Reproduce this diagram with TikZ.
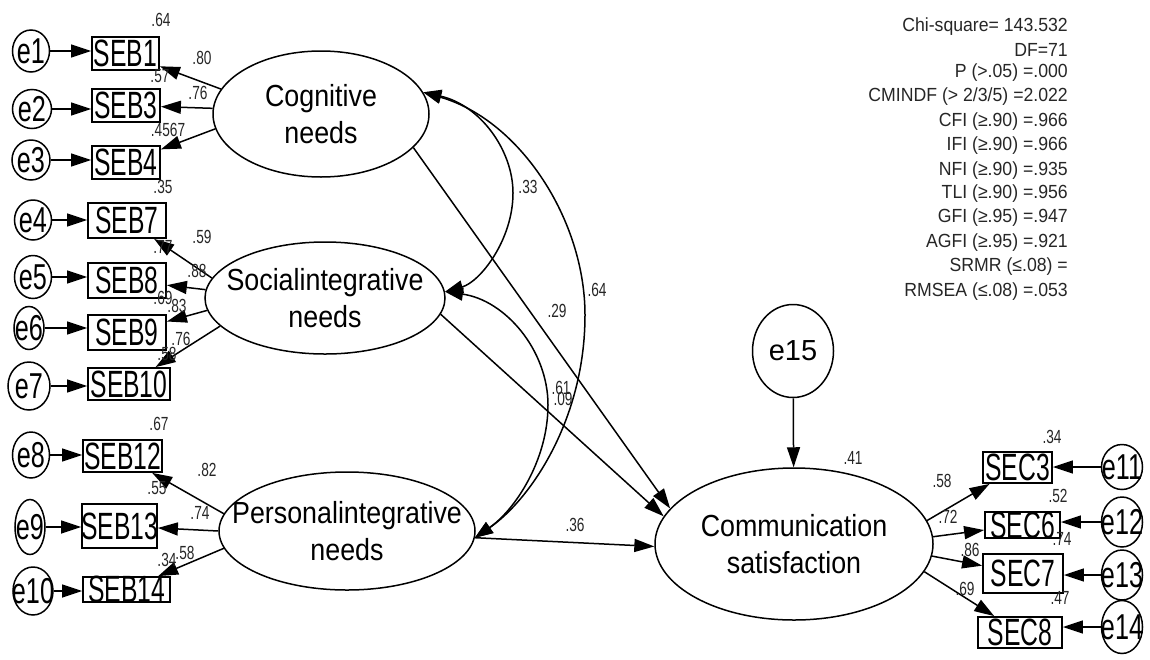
\documentclass[tikz,border=0pt]{standalone}
\usepackage{fontspec}
\setmainfont{Liberation Sans}
\newfontfamily\fLat[FakeStretch=0.88]{Liberation Sans}
\newfontfamily\fObs[FakeStretch=0.65]{Liberation Sans}
\newfontfamily\fErr[FakeStretch=0.7]{Liberation Sans}
\newfontfamily\fNum[FakeStretch=0.72]{Liberation Sans}
\newfontfamily\fFit[FakeStretch=0.93]{Liberation Sans}
\usetikzlibrary{arrows.meta,shapes.geometric}
\begin{document}
\begin{tikzpicture}[x=1pt,y=-1pt,
  lat/.style={draw, ellipse, line width=1.5pt, inner sep=0pt},
  lattext/.style={align=center, inner sep=0pt, font=\fLat\fontsize{30.5}{37}\selectfont},
  obs/.style={draw, rectangle, line width=1.8pt, inner sep=0pt},
  obstext/.style={inner sep=0pt, font=\fObs\fontsize{38}{38}\selectfont},
  err/.style={draw, ellipse, line width=1.5pt, inner sep=0pt},
  errtext/.style={inner sep=0pt, font=\fErr\fontsize{36}{36}\selectfont},
  num/.style={inner sep=0pt, text=black!85, font=\fNum\fontsize{19}{19}\selectfont},
  fit/.style={inner sep=0pt, anchor=east, text=black!85, font=\fFit\fontsize{19}{19}\selectfont},
  arr/.style={-{Triangle[length=20pt,width=13pt]}, line width=1.5pt},
  dbl/.style={{Triangle[length=18pt,width=13pt]}-{Triangle[length=18pt,width=13pt]}, line width=1.5pt}]
\useasboundingbox (0,0) rectangle (1150,659);

% latent variables
\node[lat, minimum width=216pt, minimum height=126pt, label={[lattext]center:Cognitive\\needs}] (cog) at (321,114) {};
\node[lat, minimum width=240pt, minimum height=112pt, label={[lattext]center:Socialintegrative\\needs}] (soc) at (325,298) {};
\node[lat, minimum width=256pt, minimum height=118pt, label={[lattext]center:Personalintegrative\\needs}] (pers) at (347,531) {};
\node[lat, minimum width=278pt, minimum height=152pt, label={[lattext]center:Communication\\satisfaction}] (com) at (794,544) {};
\node[err, minimum width=81pt, minimum height=93pt, label={[inner sep=0pt, font=\fontsize{29}{29}\selectfont]center:e15}] (e15) at (793,351) {};

% observed boxes
\foreach \n/\t/\x/\y/\w/\h in {
  b1/SEB1/125.5/53.5/67/33, b3/SEB3/126/105.5/68/33, b4/SEB4/126/162.5/68/33,
  b7/SEB7/127/220.5/78/35, b8/SEB8/127/280.5/78/35, b9/SEB9/127/332.5/78/35,
  b10/SEB10/129/384/82/32, b12/SEB12/122.5/456/79/32, b13/SEB13/119.5/526/75/44,
  b14/SEB14/126.5/589.5/87/25,
  s3/SEC3/1017.5/467.5/69/31, s6/SEC6/1022.5/525/75/26, s7/SEC7/1023/573.5/80/39,
  s8/SEC8/1020/632.5/84/31}
  \node[obs, minimum width=\w pt, minimum height=\h pt, label={[obstext]center:\t}] (\n) at (\x,\y) {};

% error terms
\foreach \n/\t/\x/\y/\w/\h in {
  e1/e1/31/51/37/42, e2/e2/32/109/39/39, e3/e3/31/160/38/40,
  e4/e4/33/220/37/40, e5/e5/33/277/37/43, e6/e6/29/328/30/43,
  e7/e7/29/386/42/48, e8/e8/31/455/37/46, e9/e9/30/527/30/55,
  e10/e10/33/591/40/48,
  e11/e11/1122/467/41/45, e12/e12/1122/522/41/50, e13/e13/1122/575/41/50,
  e14/e14/1122/627/41/53}
  \node[err, minimum width=\w pt, minimum height=\h pt, label={[errtext]center:\t}] (\n) at (\x,\y) {};

% error arrows
\foreach \e/\b in {e1/b1, e2/b3, e3/b4, e4/b7, e5/b8, e6/b9, e7/b10, e8/b12, e9/b13, e10/b14}
  \draw[arr] (\e.east) -- (\e.east -| \b.west);
\foreach \e/\b in {e11/s3, e12/s6, e13/s7, e14/s8}
  \draw[arr] (\e.west) -- (\e.west -| \b.east);
\draw[arr] (e15) -- (com);

% loadings
\draw[arr] (cog.166) -- (b1);
\draw[arr] (cog.177) -- (b3);
\draw[arr] (cog.188) -- (b4);
\draw[arr] (soc.170) -- (b7);
\draw[arr] (soc.176) -- (b8);
\draw[arr] (soc.186) -- (b9);
\draw[arr] (soc.195) -- (b10);
\draw[arr] (pers.172) -- (b12);
\draw[arr] (pers.180) -- (b13);
\draw[arr] (pers.188) -- (b14);
\draw[arr] (com.10) -- (s3);
\draw[arr] (com.3) -- (s6);
\draw[arr] (com.-5) -- (s7);
\draw[arr] (com.-12) -- (s8);

% structural paths
\draw[arr] (cog.-20) -- (com.164);
\draw[arr] (soc.-8) -- (com.168);
\draw[arr] (pers.-3) -- (com.181);

% covariances
\draw[dbl] (cog.12) .. controls (480,105) and (513,150) .. (513,193) .. controls (513,240) and (480,282) .. (soc.3);
\draw[dbl] (cog.12) .. controls (520,120) and (585,220) .. (585,315) .. controls (585,420) and (530,500) .. (pers.-3);
\draw[dbl] (soc.3) .. controls (505,300) and (548,350) .. (548,405) .. controls (548,460) and (515,510) .. (pers.-3);

% numbers
\node[num] (n1) at (161,20) {.64};
\node[num] (n2) at (202,58) {.80};
\node[num] (n3) at (160,76) {.57};
\node[num] (n4) at (198,93) {.76};
\node[num] (n5) at (168,130) {.4567};
\node[num] (n6) at (163,187) {.35};
\node[num] (n7) at (202,237) {.59};
\node[num] (n8) at (163,247) {.77};
\node[num] (n9) at (197,271) {.88};
\node[num] (n10) at (163,298) {.69};
\node[num] (n11) at (177,306) {.83};
\node[num] (n12) at (181,339) {.76};
\node[num] (n13) at (167,354) {.58};
\node[num] (n14) at (159,424) {.67};
\node[num] (n15) at (207,470) {.82};
\node[num] (n16) at (157,488) {.55};
\node[num] (n17) at (200,513) {.74};
\node[num] (n18) at (167,560) {.34};
\node[num] (n19) at (185,553) {.58};
\node[num] (n20) at (1052,437) {.34};
\node[num] (n21) at (942,481) {.58};
\node[num] (n22) at (1058,496) {.52};
\node[num] (n23) at (948,517) {.72};
\node[num] (n24) at (1062,539) {.74};
\node[num] (n25) at (970,550) {.86};
\node[num] (n26) at (965,589) {.69};
\node[num] (n27) at (1060,598) {.47};
\node[num] (n28) at (853,458) {.41};
\node[num] (n29) at (528,187) {.33};
\node[num] (n30) at (597,290) {.64};
\node[num] (n31) at (557,311) {.29};
\node[num] (n32) at (561,388) {.61};
\node[num] (n33) at (563,399) {.09};
\node[num] (n34) at (575,525) {.36};

% fit indices
\foreach \t/\y [count=\i] in {
  {Chi-square= 143.532}/27, {DF=71}/50, {P (>.05) =.000}/73,
  {CMINDF (> 2/3/5) =2.022}/97, {CFI (≥.90) =.966}/122, {IFI (≥.90) =.966}/146,
  {NFI (≥.90) =.935}/171, {TLI (≥.90) =.956}/194, {GFI (≥.95) =.947}/218,
  {AGFI (≥.95) =.921}/243, {SRMR (≤.08) =}/267, {RMSEA (≤.08) =.053}/292}
  \node[fit] (fit\i) at (1068,\y) {\t};
\end{tikzpicture}
\end{document}
